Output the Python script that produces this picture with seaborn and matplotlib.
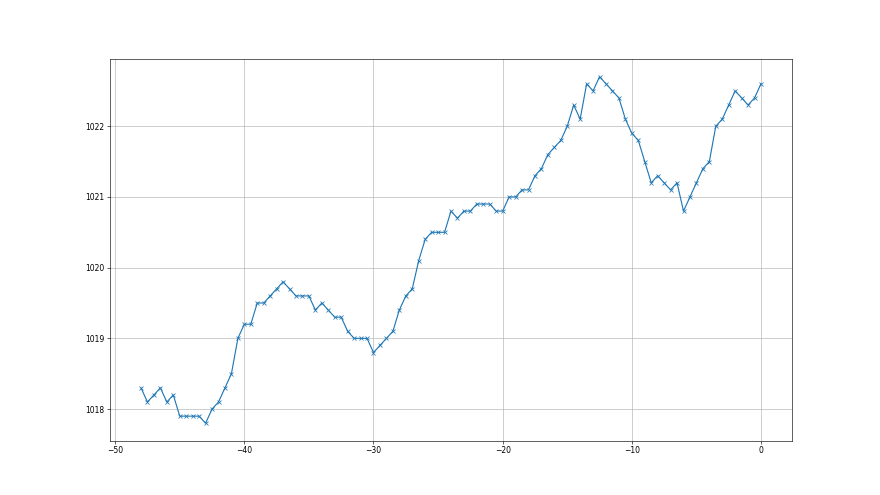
import numpy as np
import pandas as pd
import seaborn as sns
from matplotlib import pyplot as plt

# hours before now, pressure readings (hPa)
hours = np.arange(-48, 0.5, 0.5)
pressure = [
    1018.3, 1018.1, 1018.2, 1018.3, 1018.1, 1018.2, 1017.9, 1017.9, 1017.9, 1017.9,
    1017.8, 1018.0, 1018.1, 1018.3, 1018.5, 1019.0, 1019.2, 1019.2, 1019.5, 1019.5,
    1019.6, 1019.7, 1019.8, 1019.7, 1019.6, 1019.6, 1019.6, 1019.4, 1019.5, 1019.4,
    1019.3, 1019.3, 1019.1, 1019.0, 1019.0, 1019.0, 1018.8, 1018.9, 1019.0, 1019.1,
    1019.4, 1019.6, 1019.7, 1020.1, 1020.4, 1020.5, 1020.5, 1020.5, 1020.8, 1020.7,
    1020.8, 1020.8, 1020.9, 1020.9, 1020.9, 1020.8, 1020.8, 1021.0, 1021.0, 1021.1,
    1021.1, 1021.3, 1021.4, 1021.6, 1021.7, 1021.8, 1022.0, 1022.3, 1022.1, 1022.6,
    1022.5, 1022.7, 1022.6, 1022.5, 1022.4, 1022.1, 1021.9, 1021.8, 1021.5, 1021.2,
    1021.3, 1021.2, 1021.1, 1021.2, 1020.8, 1021.0, 1021.2, 1021.4, 1021.5, 1022.0,
    1022.1, 1022.3, 1022.5, 1022.4, 1022.3, 1022.4, 1022.6,
]

df = pd.DataFrame({"hours": hours, "pressure": pressure})

fig, ax = plt.subplots(figsize=(16, 9), dpi=55)
sns.lineplot(data=df, x="hours", y="pressure", marker="x", color="#1f77b4",
             markeredgecolor="#1f77b4", markersize=6, markeredgewidth=1.0, ax=ax)
ax.set_xlabel("")
ax.set_ylabel("")
ax.grid(True)
fig.savefig("out.png", dpi=55)
